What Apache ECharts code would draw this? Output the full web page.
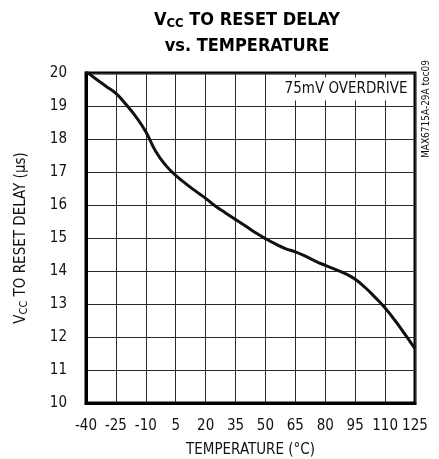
<!DOCTYPE html>
<html>
<head>
<meta charset="utf-8">
<script src="https://cdn.jsdelivr.net/npm/echarts@6/dist/echarts.min.js"></script>
<style>
    html, body { margin: 0; padding: 0; background: #fff; }
    #chart { width: 439px; height: 459px; }
</style>
</head>
<body>
<div id="chart"></div>
<script>
    // temperature (°C), 5 degree steps
    var temps = [-40, -35, -30, -25, -20, -15, -10, -5, 0, 5, 10, 15, 20, 25, 30, 35, 40,
        45, 50, 55, 60, 65, 70, 75, 80, 85, 90, 95, 100, 105, 110, 115, 120, 125];
    // VCC to reset delay (us)
    var delay = [20.05, 19.82, 19.6, 19.38, 19.05, 18.68, 18.22, 17.62, 17.2, 16.9, 16.65, 16.42, 16.2, 15.96, 15.76, 15.56, 15.36,
        15.16, 14.98, 14.82, 14.68, 14.58, 14.45, 14.3, 14.17, 14.05, 13.92, 13.75, 13.5, 13.2, 12.88, 12.5, 12.08, 11.65];
    var yTicks = [10, 20, 1];

    var FONT = '"Liberation Sans Narrow", "DejaVu Sans Condensed", sans-serif';

    var myChart = echarts.init(document.getElementById('chart'));

    var option = {
        backgroundColor: '#fff',
        animation: false,
        grid: {
            left: 86,
            right: 24,
            top: 73,
            bottom: 56,
            outerBoundsMode: 'none',
            show: true,
            borderColor: '#000',
            borderWidth: 3
        },
        xAxis: {
            type: 'category',
            data: temps,
            boundaryGap: false,
            axisLine: { show: true, lineStyle: { color: '#000', width: 3 } },
            axisTick: { show: false },
            axisLabel: {
                interval: 2,
                margin: 16,
                color: '#111',
                fontSize: 15,
                fontFamily: FONT
            },
            splitLine: { show: true, interval: 2, lineStyle: { color: '#2a2a2a', width: 1 } },
            name: 'TEMPERATURE (°C)',
            nameLocation: 'middle',
            nameGap: 40,
            nameTextStyle: { color: '#111', fontSize: 15, fontFamily: FONT }
        },
        yAxis: {
            type: 'value',
            min: yTicks[0],
            max: yTicks[1],
            interval: yTicks[2],
            axisLine: { show: true, lineStyle: { color: '#000', width: 3 } },
            axisTick: { show: false },
            axisLabel: {
                margin: 19,
                color: '#111',
                fontSize: 15,
                fontFamily: FONT
            },
            splitLine: { show: true, lineStyle: { color: '#2a2a2a', width: 1 } },
            name: '{n|V}{s|CC}{n| TO RESET DELAY (µs)}',
            nameLocation: 'middle',
            nameGap: 56,
            nameTextStyle: {
                rich: {
                    n: { color: '#111', fontSize: 15, fontFamily: FONT },
                    s: { color: '#111', fontSize: 11, fontFamily: FONT, verticalAlign: 'bottom', padding: [6, 0, 0, 0] }
                }
            }
        },
        graphic: [
            {
                type: 'text',
                x: 247,
                y: 7,
                style: {
                    text: '{t|V}{ts|CC}{t| TO RESET DELAY}\n{t|vs. TEMPERATURE}',
                    textAlign: 'center',
                    rich: {
                        t: { fontSize: 18, fontWeight: 'bold', fontFamily: FONT, fill: '#000', lineHeight: 26 },
                        ts: { fontSize: 13, fontWeight: 'bold', fontFamily: FONT, fill: '#000', lineHeight: 26, padding: [8, 0, 0, 0] }
                    }
                }
            },
            {
                type: 'text',
                x: 346,
                y: 89,
                z: 10,
                style: {
                    text: '75mV OVERDRIVE',
                    textAlign: 'center',
                    textVerticalAlign: 'middle',
                    font: '15px ' + FONT,
                    fill: '#111',
                    backgroundColor: '#fff',
                    padding: [4, 2, 4, 2]
                }
            },
            {
                type: 'text',
                x: 426,
                y: 109,
                rotation: Math.PI / 2,
                style: {
                    text: 'MAX6715A-29A toc09',
                    textAlign: 'center',
                    textVerticalAlign: 'middle',
                    font: '10px ' + FONT,
                    fill: '#111'
                }
            }
        ],
        series: [
            {
                type: 'line',
                data: delay,
                smooth: true,
                symbol: 'none',
                clip: true,
                lineStyle: { color: '#111', width: 3 }
            }
        ]
    };

    myChart.setOption(option);
</script>
</body>
</html>
